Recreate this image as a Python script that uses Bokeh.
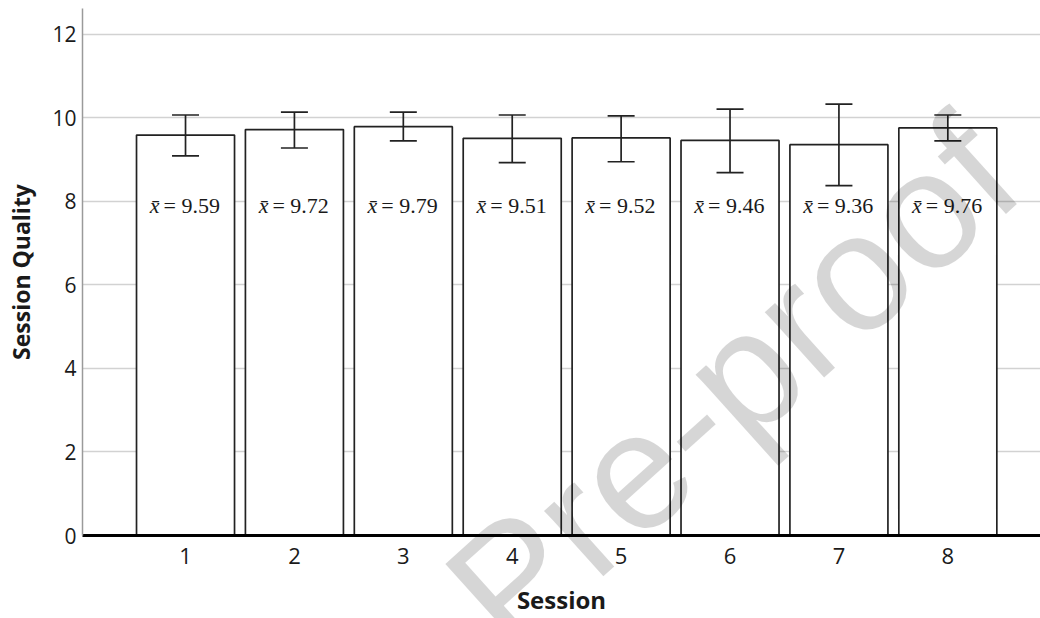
import numpy as np
from bokeh.plotting import figure
from bokeh.layouts import column
from bokeh.models import (ColumnDataSource, Range1d, FixedTicker, Whisker, TeeHead)
from bokeh.core.properties import value
from bokeh.embed import file_html
from bokeh.resources import INLINE

# ---- data ----
sessions = [1, 2, 3, 4, 5, 6, 7, 8]
session_labels = ["1", "2", "3", "4", "5", "6", "7", "8"]
means = [9.59, 9.72, 9.79, 9.51, 9.52, 9.46, 9.36, 9.76]
err_upper = [10.07, 10.14, 10.14, 10.07, 10.05, 10.21, 10.33, 10.07]
err_lower = [9.09, 9.28, 9.45, 8.93, 8.95, 8.69, 8.38, 9.45]
y_ticks = [0, 2, 4, 6, 8, 10, 12]
watermark = "Pre-proof"

mean_text = ["= %.2f" % m for m in means]
xbar = ["x\u0304"] * len(means)
label_y = [7.9] * len(means)

src = ColumnDataSource(dict(x=sessions, top=means, upper=err_upper, lower=err_lower,
                            txt=mean_text, xb=xbar, ly=label_y))

W, H = 1040, 618
p = figure(width=W, height=H, output_backend="svg", toolbar_location=None,
           x_range=Range1d(0.054, 8.851), y_range=Range1d(0, 12.62),
           min_border_left=82, min_border_right=0, min_border_top=8, min_border_bottom=81)
p.outline_line_color = None
p.background_fill_color = "white"

# grid
p.xgrid.grid_line_color = None
p.ygrid.grid_line_color = "#d2d2d2"
p.ygrid.grid_line_width = 1.5
p.ygrid.ticker = FixedTicker(ticks=y_ticks)

# bars
p.vbar(x="x", top="top", width=0.9, bottom=0, source=src,
       fill_color="white", line_color="#222222", line_width=1.7)

# error bars
wh = Whisker(base="x", upper="upper", lower="lower", source=src, level="annotation",
             line_color="#222222", line_width=1.7,
             upper_head=TeeHead(size=27, line_color="#222222", line_width=1.7),
             lower_head=TeeHead(size=27, line_color="#222222", line_width=1.7))
p.add_layout(wh)

# mean labels
p.text(x="x", y="ly", text="xb", source=src, text_font=value("Liberation Serif"),
       text_font_style="italic", text_font_size="22px", text_align="right",
       text_baseline="middle", x_offset=-26, text_color="#1a1a1a")
p.text(x="x", y="ly", text="txt", source=src, text_font=value("Liberation Serif"),
       text_font_size="22px", text_align="left", text_baseline="middle",
       x_offset=-22, text_color="#1a1a1a")

# axes
p.xaxis.ticker = FixedTicker(ticks=sessions)
p.xaxis.major_label_overrides = {s: l for s, l in zip(sessions, session_labels)}
p.xaxis.axis_line_color = "black"
p.xaxis.axis_line_width = 3
p.xaxis.major_tick_line_color = None
p.xaxis.minor_tick_line_color = None
p.xaxis.major_tick_out = 0
p.xaxis.major_label_standoff = 12
p.xaxis.major_label_text_font = "Open Sans"
p.xaxis.major_label_text_font_size = "22px"
p.xaxis.major_label_text_color = "#1a1a1a"
p.xaxis.axis_label = "Session"
p.xaxis.axis_label_text_font = "Open Sans"
p.xaxis.axis_label_text_font_style = "bold"
p.xaxis.axis_label_text_font_size = "24px"
p.xaxis.axis_label_text_color = "#1a1a1a"
p.xaxis.axis_label_standoff = 16

p.yaxis.ticker = FixedTicker(ticks=y_ticks)
p.yaxis.axis_line_color = "#9a9a9a"
p.yaxis.axis_line_width = 1.5
p.yaxis.major_tick_line_color = None
p.yaxis.minor_tick_line_color = None
p.yaxis.major_tick_out = 0
p.yaxis.major_label_standoff = 6
p.yaxis.major_label_text_font = "Open Sans"
p.yaxis.major_label_text_font_size = "21px"
p.yaxis.major_label_text_color = "#1a1a1a"
p.yaxis.axis_label = "Session Quality"
p.yaxis.axis_label_text_font = "Open Sans"
p.yaxis.axis_label_text_font_style = "bold"
p.yaxis.axis_label_text_font_size = "23px"
p.yaxis.axis_label_text_color = "#1a1a1a"
p.yaxis.axis_label_standoff = 12

# watermark overlay: a transparent figure laid over the chart
wmf = figure(width=W, height=H, output_backend="svg", toolbar_location=None,
             x_range=Range1d(0, W), y_range=Range1d(0, H),
             min_border=0, x_axis_location=None, y_axis_location=None,
             background_fill_color=None, border_fill_color=None,
             outline_line_color=None, styles={"margin-top": "-%dpx" % H})
wmf.xgrid.visible = False
wmf.ygrid.visible = False
wmf.text(x=[705], y=[H - 382], text=[watermark], angle=42, angle_units="deg",
         text_font=value("Liberation Sans"), text_font_size="167px",
         text_color="black", text_alpha=0.16,
         text_align="center", text_baseline="middle")

layout = column(p, wmf, spacing=0)
open("out.html", "w").write(file_html(layout, INLINE))
